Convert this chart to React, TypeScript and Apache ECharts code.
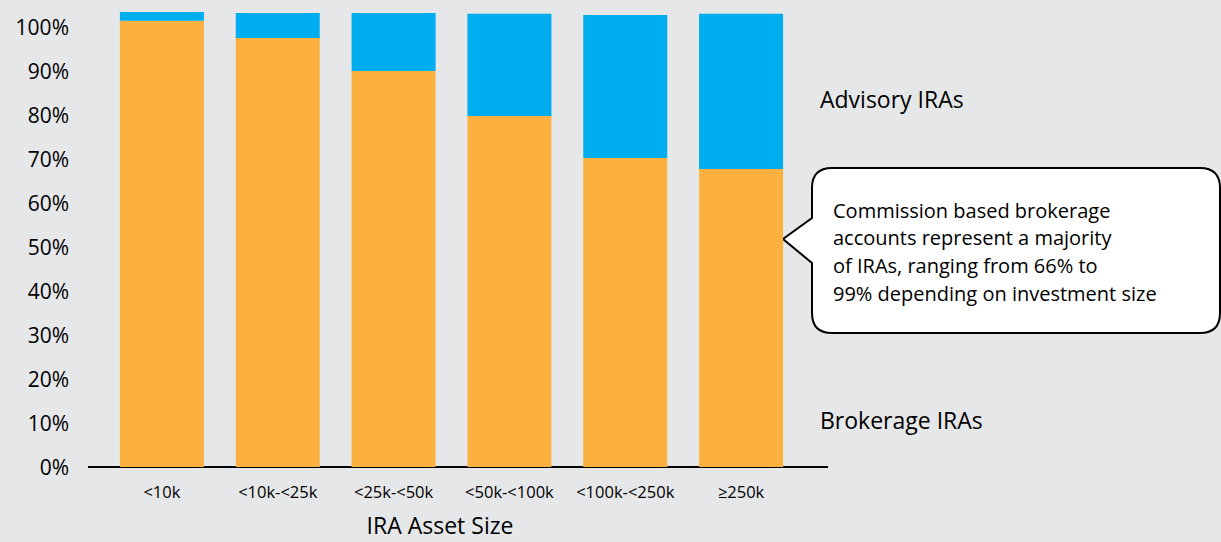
import React, { useEffect, useRef } from "react";
import * as echarts from "echarts";

const categories = ["<10k", "<10k-<25k", "<25k-<50k", "<50k-<100k", "<100k-<250k", "≥250k"];
const brokerage = [101.4, 97.5, 90.0, 79.8, 70.2, 67.7];
const advisory = [2.0, 5.7, 13.2, 23.2, 32.5, 35.3];
const yTicks = [0, 10, 20, 30, 40, 50, 60, 70, 80, 90, 100];
const calloutLines = [
  "Commission based brokerage",
  "accounts represent a majority",
  "of IRAs, ranging from 66% to",
  "99% depending on investment size",
];
const xTitle = "IRA Asset Size";
const seriesNames = ["Brokerage IRAs", "Advisory IRAs"];

const FONT = "'Open Sans', 'Noto Sans', sans-serif";
const BG = "#E6E7E9";

export default function App() {
  const ref = useRef<HTMLDivElement>(null);
  useEffect(() => {
    document.body.style.margin = "0";
    document.body.style.background = BG;
    const calloutPath =
      "M 832 168 H 1200 Q 1220 168 1220 188 V 313 Q 1220 333 1200 333 H 832 Q 812 333 812 313 V 263 L 783 239 L 812 218 V 188 Q 812 168 832 168 Z";
    echarts.graphic.registerShape("callout", echarts.graphic.extendPath(calloutPath, {}) as any);
    const chart = echarts.init(ref.current!, null, { renderer: "svg" });
    const maxTick = yTicks[yTicks.length - 1];
    chart.setOption({
      animation: false,
      backgroundColor: BG,
      textStyle: { fontFamily: FONT },
      grid: { left: 104, right: 422, top: 5, bottom: 75, containLabel: false },
      xAxis: {
        type: "category",
        data: categories,
        axisLine: { show: false },
        axisTick: { show: false },
        axisLabel: { interval: 0, fontSize: 16.5, color: "#000", margin: 16, fontFamily: FONT },
      },
      yAxis: {
        type: "value",
        min: 0,
        max: 105,
        interval: 10,
        axisLine: { show: false },
        axisTick: { show: false },
        splitLine: { show: false },
        axisLabel: {
          fontSize: 21,
          color: "#000",
          margin: 35,
          padding: [0, 0, 3, 0],
          fontFamily: FONT,
          formatter: (v: number) => (v <= maxTick && yTicks.includes(Math.round(v)) ? `${Math.round(v)}%` : ""),
        },
      },
      series: [
        {
          name: seriesNames[0],
          type: "bar",
          stack: "total",
          barWidth: 84,
          data: brokerage,
          itemStyle: { color: "#FBB040" },
        },
        {
          name: seriesNames[1],
          type: "bar",
          stack: "total",
          barWidth: 84,
          data: advisory,
          itemStyle: { color: "#00AEEF" },
        },
      ],
      graphic: [
        {
          type: "line",
          shape: { x1: 88, y1: 467, x2: 828, y2: 467 },
          style: { stroke: "#000", lineWidth: 2 },
        },
        {
          type: "text",
          x: 440,
          y: 525,
          style: { text: xTitle, font: `23px ${FONT}`, fill: "#000", align: "center", verticalAlign: "middle" },
        },
        {
          type: "text",
          x: 820,
          y: 99,
          style: { text: seriesNames[1], font: `23px ${FONT}`, fill: "#000", align: "left", verticalAlign: "middle" },
        },
        {
          type: "text",
          x: 820,
          y: 420,
          style: { text: seriesNames[0], font: `23px ${FONT}`, fill: "#000", align: "left", verticalAlign: "middle" },
        },
        {
          type: "callout",
          x: 0,
          y: 0,
          style: { fill: "#fff", stroke: "#000", lineWidth: 2 },
        },
        ...calloutLines.map((t, i) => ({
          type: "text",
          x: 833,
          y: 210 + i * 27.7,
          style: { text: t, font: `20px ${FONT}`, fill: "#000", align: "left", verticalAlign: "middle" },
        })),
      ],
    });
    return () => chart.dispose();
  }, []);
  return (
    <div
      ref={ref}
      style={{ position: "absolute", left: 0, top: 0, width: 1221, height: 542, background: BG }}
    />
  );
}
